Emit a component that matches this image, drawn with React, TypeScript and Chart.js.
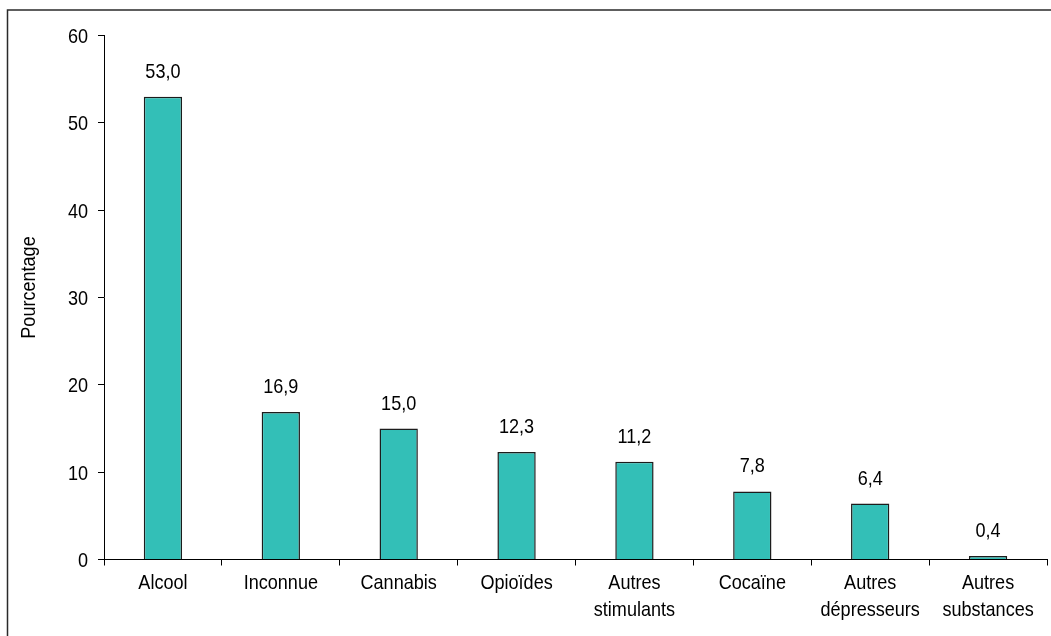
import { useEffect, useRef } from 'react';
import { Chart, registerables } from 'chart.js';

Chart.register(...registerables);

// Substance categories (multi-line labels are split per line)
const categories: string[][] = [
  ['Alcool'],
  ['Inconnue'],
  ['Cannabis'],
  ['Opioïdes'],
  ['Autres', 'stimulants'],
  ['Cocaïne'],
  ['Autres', 'dépresseurs'],
  ['Autres', 'substances'],
];

// Share of cases per substance, in percent
const percentages: number[] = [53.0, 16.9, 15.0, 12.3, 11.2, 7.8, 6.4, 0.4];

// Value axis range and step
const yMin = 0;
const yMax = 60;
const yStep = 10;

const yTitle = 'Pourcentage';

// Text is set in a narrow sans: a regular sans squeezed horizontally
const FONT = '21px "Liberation Sans", Arial, sans-serif';
const NARROW = 0.86;
const BAR_FILL = '#33bfb7';
const INK = '#000000';

const formatFr = (v: number) => v.toFixed(1).replace('.', ',');

function drawNarrowText(
  ctx: CanvasRenderingContext2D,
  text: string,
  x: number,
  y: number,
  align: CanvasTextAlign,
  rotated = false,
) {
  ctx.save();
  ctx.translate(x, y);
  if (rotated) ctx.rotate(-Math.PI / 2);
  ctx.scale(NARROW, 1);
  ctx.font = FONT;
  ctx.fillStyle = INK;
  ctx.textAlign = align;
  ctx.textBaseline = 'alphabetic';
  ctx.fillText(text, 0, 0);
  ctx.restore();
}

// Draws the outer frame (top and left edges) behind the chart
const framePlugin = {
  id: 'frame',
  beforeDraw(chart: Chart) {
    const ctx = chart.ctx;
    ctx.save();
    ctx.fillStyle = '#ffffff';
    ctx.fillRect(0, 0, chart.width, chart.height);
    ctx.strokeStyle = '#2a2a2a';
    ctx.lineWidth = 1.5;
    ctx.beginPath();
    ctx.moveTo(7.5, chart.height);
    ctx.lineTo(7.5, 10);
    ctx.lineTo(chart.width, 10);
    ctx.stroke();
    ctx.restore();
  },
};

// Axis tick labels, axis title and value labels above the bars
const textPlugin = {
  id: 'narrowText',
  afterDraw(chart: Chart) {
    const ctx = chart.ctx;
    const xScale: any = chart.scales.x;
    const yScale: any = chart.scales.y;

    // value axis ticks
    yScale.ticks.forEach((t: any) => {
      const py = yScale.getPixelForValue(t.value);
      drawNarrowText(ctx, String(t.value), yScale.right - 16, py + 7.5, 'right');
    });

    // category labels
    const labels = chart.data.labels as string[][];
    labels.forEach((lines, i) => {
      const px = xScale.getPixelForTick(i);
      lines.forEach((line, j) => {
        drawNarrowText(ctx, line, px, xScale.top + 29.5 + j * 27, 'center');
      });
    });

    // axis title
    const area = chart.chartArea;
    drawNarrowText(ctx, yTitle, 35, (area.top + area.bottom) / 2 - 10, 'center', true);

    // bar values
    const meta = chart.getDatasetMeta(0);
    const values = chart.data.datasets[0].data as number[];
    meta.data.forEach((bar: any, i: number) => {
      drawNarrowText(ctx, formatFr(values[i]), bar.x, bar.y - 19, 'center');
    });
  },
};

export default function App() {
  const canvasRef = useRef<HTMLCanvasElement | null>(null);

  useEffect(() => {
    const canvas = canvasRef.current;
    if (!canvas) return;
    const chart = new Chart(canvas, {
      type: 'bar',
      data: {
        labels: categories,
        datasets: [
          {
            data: percentages,
            backgroundColor: BAR_FILL,
            borderColor: '#1c1c1c',
            borderWidth: 1.5,
            barPercentage: 0.325,
            categoryPercentage: 1,
          },
        ],
      },
      options: {
        responsive: false,
        animation: false,
        layout: { padding: { left: 0, top: 35.5, right: 4, bottom: 0 } },
        plugins: {
          legend: { display: false },
          tooltip: { enabled: false },
        },
        scales: {
          x: {
            grid: {
              display: true,
              drawOnChartArea: false,
              drawTicks: true,
              tickLength: 6,
              color: INK,
              lineWidth: 1,
              offset: true,
            },
            border: { display: true, color: INK, width: 1 },
            ticks: { display: false, autoSkip: false },
            afterFit(scale: any) {
              scale.height = 76.5;
            },
          },
          y: {
            min: yMin,
            max: yMax,
            grid: {
              display: true,
              drawOnChartArea: false,
              drawTicks: true,
              tickLength: 6,
              color: INK,
              lineWidth: 1,
            },
            border: { display: true, color: INK, width: 1 },
            ticks: { display: false, stepSize: yStep },
            afterFit(scale: any) {
              scale.width = 104;
            },
          },
        },
      },
      plugins: [framePlugin, textPlugin],
    });
    return () => chart.destroy();
  }, []);

  return (
    <div style={{ position: 'absolute', left: 0, top: 0, width: 1051, height: 636, overflow: 'hidden' }}>
      <canvas ref={canvasRef} width={1051} height={636} style={{ display: 'block' }} />
    </div>
  );
}
